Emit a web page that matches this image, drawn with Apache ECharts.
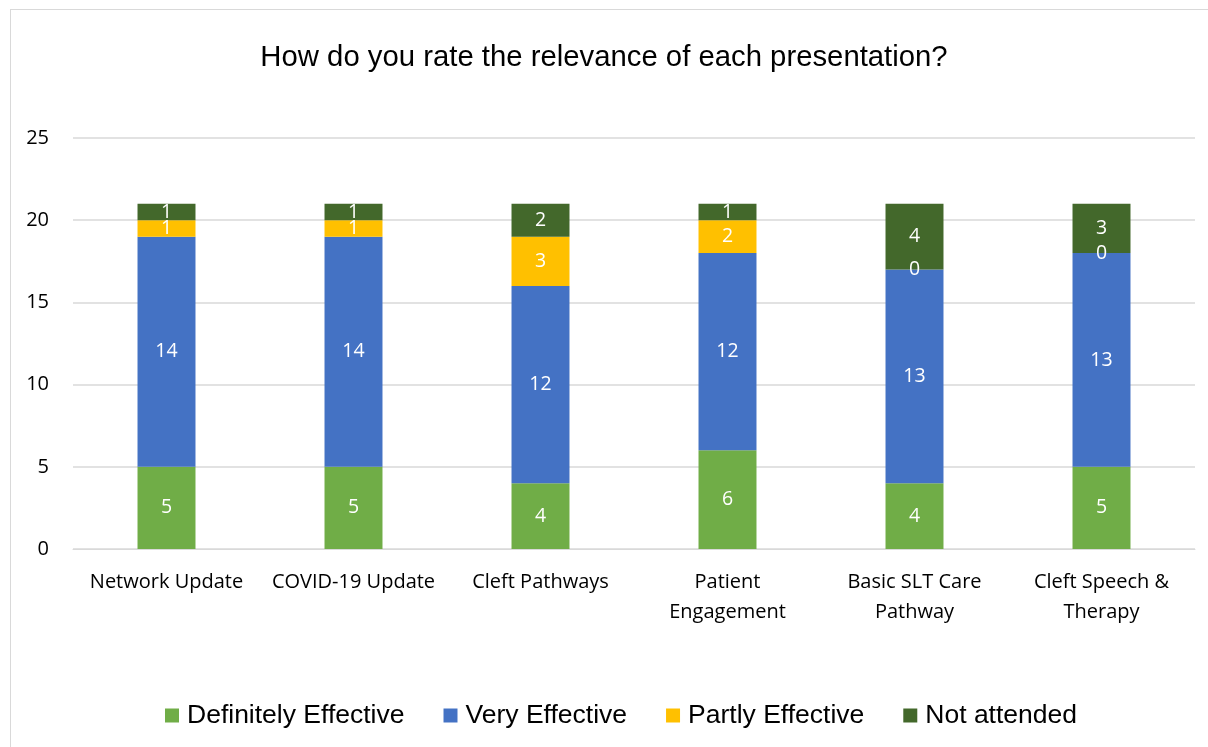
<!DOCTYPE html>
<html>
<head>
    <meta charset="UTF-8">
    <title>Relevance of each presentation</title>
    <script src="https://cdn.jsdelivr.net/npm/echarts@6/dist/echarts.min.js"></script>
    <style>
        body { margin: 0; background: #fff; }
        #frame { position: absolute; left: 10px; top: 9px; width: 1220px; height: 760px; border: 1px solid #d9d9d9; }
        #chart { position: absolute; left: 0; top: 0; width: 1208px; height: 747px; }
    </style>
</head>
<body>
<div id="frame"></div>
<div id="chart"></div>
<script>
    // categories and values
    var categories = ['Network Update', 'COVID-19 Update', 'Cleft Pathways', 'Patient\nEngagement', 'Basic SLT Care\nPathway', 'Cleft Speech &\nTherapy'];
    var definitelyEffective = [5, 5, 4, 6, 4, 5];
    var veryEffective = [14, 14, 12, 12, 13, 13];
    var partlyEffective = [1, 1, 3, 2, 0, 0];
    var notAttended = [1, 1, 2, 1, 4, 3];

    function seg(name, data, color) {
        return {
            name: name,
            type: 'bar',
            stack: 'total',
            barWidth: '31%',
            data: data,
            itemStyle: { color: color },
            label: {
                show: true,
                position: 'inside',
                color: '#fff',
                fontFamily: 'Open Sans',
                fontSize: 19.5
            }
        };
    }

    var chart = echarts.init(document.getElementById('chart'));
    chart.setOption({
        animation: false,
        title: {
            text: 'How do you rate the relevance of each presentation?',
            left: 'center',
            top: 38,
            textStyle: { fontFamily: 'Liberation Sans', fontSize: 29.3, fontWeight: 'normal', color: '#000' }
        },
        legend: {
            bottom: 13,
            left: 160,
            itemWidth: 14,
            itemHeight: 14,
            itemGap: 39,
            icon: 'rect',
            textStyle: { fontFamily: 'Liberation Sans', fontSize: 26.5, color: '#000', padding: [0, 0, 0, 3] },
            data: ['Definitely Effective', 'Very Effective', 'Partly Effective', 'Not attended']
        },
        grid: { left: 73, right: 13, top: 138, bottom: 198, containLabel: false },
        xAxis: {
            type: 'category',
            data: categories,
            axisTick: { show: false },
            axisLine: { lineStyle: { color: '#d9d9d9' } },
            axisLabel: { color: '#000', fontFamily: 'Open Sans', fontSize: 20, lineHeight: 30, margin: 18, interval: 0 }
        },
        yAxis: {
            type: 'value',
            min: 0,
            max: 25,
            interval: 5,
            axisLine: { show: false },
            axisTick: { show: false },
            splitLine: { lineStyle: { color: '#d9d9d9', width: 1.5 } },
            axisLabel: { color: '#000', fontFamily: 'Open Sans', fontSize: 20, margin: 24 }
        },
        series: [
            seg('Definitely Effective', definitelyEffective, '#70AD47'),
            seg('Very Effective', veryEffective, '#4472C4'),
            seg('Partly Effective', partlyEffective, '#FFC000'),
            seg('Not attended', notAttended, '#43682B')
        ]
    });
</script>
</body>
</html>
